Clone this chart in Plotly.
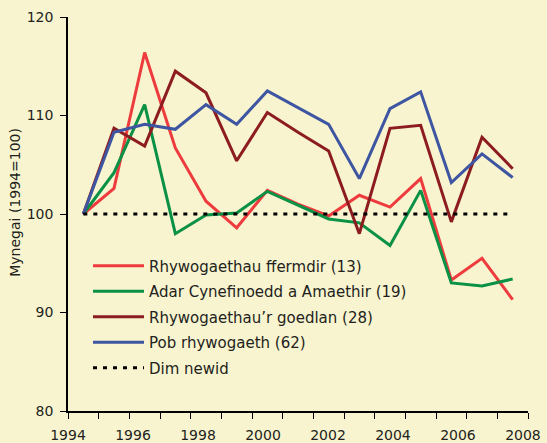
import plotly.graph_objects as go

years = list(range(1994, 2009))
farmland = [100, 102.6, 116.4, 106.7, 101.3, 98.6, 102.4, 101.0, 99.8, 101.9, 100.7, 103.6, 93.3, 95.5, 91.3]
habitats = [100, 104.2, 111.1, 98.0, 99.9, 100.1, 102.3, 100.9, 99.5, 99.1, 96.8, 102.4, 93.0, 92.7, 93.4]
woodland = [100, 108.7, 106.9, 114.5, 112.3, 105.4, 110.3, 108.3, 106.4, 98.0, 108.7, 109.0, 99.2, 107.8, 104.6]
allspecies = [100, 108.3, 109.1, 108.6, 111.1, 109.1, 112.5, 110.8, 109.1, 103.6, 110.7, 112.4, 103.2, 106.1, 103.7]
baseline = [100, 100]

names = ["Rhywogaethau ffermdir (13)", "Adar Cynefinoedd a Amaethir (19)",
         "Rhywogaethau\u2019r goedlan (28)", "Pob rhywogaeth (62)", "Dim newid"]
colors = ["#EE3B3E", "#0A9146", "#8C1C20", "#3E56A2"]
xtick_labels = ["1994", "1996", "1998", "2000", "2002", "2004", "2006", "2008"]
ytick_vals = [80, 90, 100, 110, 120]

BG = "#F8F4CF"
FONT = "DejaVu Sans, Liberation Sans, Arial, sans-serif"

fig = go.Figure()
for i, (vals, name, col) in enumerate(zip([farmland, habitats, woodland, allspecies], names, colors)):
    fig.add_trace(go.Scatter(x=years, y=vals, mode="lines", name=name, legendgroup=f"g{i}",
                             line=dict(color=col, width=3)))
fig.add_trace(go.Scatter(x=[years[0], years[-1]], y=baseline, mode="lines", name=names[4],
                         legendgroup="g4",
                         line=dict(color="black", width=3, dash="4px,6px")))

x0 = years[0] - 0.5
x1 = years[-1] + 0.5
step = 14.835 / 7
label_pos = [x0 + k * step for k in range(len(xtick_labels))]
minor_pos = [x0 + j for j in range(len(years) + 1)]

fig.update_layout(
    width=547, height=443,
    margin=dict(l=68, r=19, t=17, b=32, autoexpand=False),
    paper_bgcolor=BG, plot_bgcolor=BG,
    font=dict(family=FONT, size=14, color="#231F20"),
    showlegend=True,
    legend=dict(x=0.0435, y=0.41, xanchor="left", yanchor="top", bgcolor="rgba(0,0,0,0)",
                font=dict(size=15), itemwidth=51, tracegroupgap=3),
    xaxis=dict(range=[x0, x1], tickmode="array", tickvals=label_pos, ticktext=xtick_labels,
               ticks="outside", ticklen=6, tickcolor="rgba(0,0,0,0)", ticklabelstandoff=4,
               showgrid=False, zeroline=False, showline=True, automargin=False,
               linecolor="black", linewidth=1.5, tickfont=dict(size=14),
               minor=dict(tickmode="array", tickvals=minor_pos, ticks="outside",
                          ticklen=6, tickcolor="black", tickwidth=1, showgrid=False)),
    yaxis=dict(range=[80, 120], tickmode="array", tickvals=ytick_vals, automargin=False,
               ticks="outside", ticklen=6, tickcolor="black", tickwidth=1, ticklabelstandoff=4,
               showgrid=False, zeroline=False, showline=True,
               linecolor="black", linewidth=1.5, tickfont=dict(size=14)),
    annotations=[dict(text="Mynegai (1994=100)", textangle=-90, xref="paper", yref="paper",
                      x=-0.114, y=0.53, xanchor="center", yanchor="middle",
                      showarrow=False, font=dict(size=14))],
)

fig.write_html("out.html", config={"displayModeBar": False},
               post_script="document.body.style.margin='0';")
